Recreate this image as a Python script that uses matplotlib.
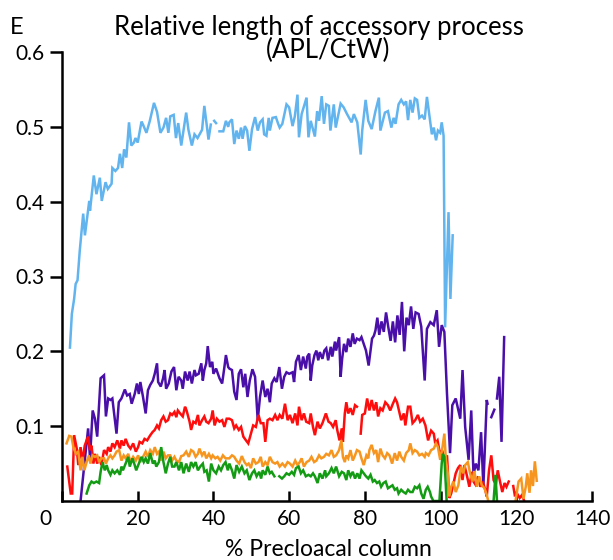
import numpy as np
import matplotlib
matplotlib.use("Agg")
import matplotlib.pyplot as plt
from matplotlib.transforms import ScaledTranslation

plt.rcParams['font.family'] = ['Lato', 'DejaVu Sans']

nan = np.nan

# values (x = % precloacal column, y = APL/CtW)
blue_x = [2.1, 2.6, 3.2, 3.6, 4.1, 4.7, 5.6, 6.05, 7.2, 7.4, 8.4, 9.1, 10.0, 10.5, 11.5, 12.1, 13.1, 13.3,
          14.1, 14.8, 15.3, 15.9, 16.4, 17.0, 17.7, 18.3, 19.0, 19.4, 20.0, 21.0, 21.4, 22.3, 23.2, 24.3,
          25.1, 26.0, 26.8, 27.5, 28.1, 28.6, 29.5, 30.1, 30.7, 31.5, 32.8, 33.4, 34.3, 35.0, 35.8, 37.0,
          37.6, 38.7, 39.3, 39.8, 40.2, 40.7, 41.0, 41.6, 42.6, 43.3, 43.9,
          44.2, 44.9, 45.5, 46.1, 46.7, 47.3, 47.7, 48.3, 48.9, 49.5, 50.2, 51.0, 51.7, 52.3, 53.0, 53.4,
          54.0, 54.6, 54.9, 55.6, 56.5, 57.1, 57.5, 58.2, 59.3, 60.0, 60.9, 61.5, 62.2, 62.6, 63.3, 64.6,
          65.1, 65.7, 66.8, 67.4, 67.9, 68.6, 69.2, 69.8, 70.5, 70.9, 71.8, 72.3, 73.6, 74.4, 75.3, 76.5,
          77.1, 78.0, 78.9, 79.3, 80.2, 80.9, 81.8, 82.8, 83.7, 84.1, 85.3, 86.1, 87.0, 87.6, 88.1,
          88.9, 89.6, 90.3, 90.9, 91.4, 92.0, 92.6, 93.2, 93.8, 94.4, 95.1, 95.8, 96.4, 97.0, 97.7, 98.2,
          98.8, 99.3, 99.9, 100.3, 100.8, 101.2, 102.1, 102.6, 103.2]
blue_y = [0.205, 0.25, 0.27, 0.29, 0.295, 0.335, 0.384, 0.355, 0.401, 0.388, 0.435, 0.41, 0.432, 0.401,
          0.426, 0.417, 0.424, 0.445, 0.441, 0.445, 0.464, 0.445, 0.47, 0.459, 0.506, 0.475, 0.479, 0.485,
          0.479, 0.507, 0.503, 0.492, 0.508, 0.532, 0.52, 0.492, 0.499, 0.512, 0.492, 0.514, 0.516, 0.485,
          0.505, 0.475, 0.519, 0.496, 0.475, 0.49, 0.485, 0.496, 0.528, 0.483, 0.503, nan, 0.508, 0.505,
          nan, 0.494, 0.494, 0.508, 0.5,
          0.506, 0.51, 0.477, 0.495, 0.484, 0.499, 0.484, 0.501, 0.495, 0.468, 0.497, 0.513, 0.495, 0.506,
          0.51, 0.49, 0.488, 0.512, 0.495, 0.512, 0.513, 0.504, 0.499, 0.504, 0.53, 0.526, 0.501, 0.514,
          0.543, 0.486, 0.517, 0.539, 0.486, 0.508, 0.487, 0.521, 0.508, 0.541, 0.504, 0.53, 0.528, 0.495,
          0.53, 0.499, 0.531, 0.526, 0.517, 0.506, 0.517, 0.506, 0.463, 0.495, 0.536, 0.508, 0.497, 0.521,
          0.539, 0.495, 0.519, 0.521, 0.499, 0.512, 0.504,
          0.53, 0.536, 0.53, 0.534, 0.509, 0.536, 0.519, 0.538, 0.536, 0.512, 0.515, 0.51, 0.54, 0.517,
          0.49, 0.499, 0.482, 0.495, 0.492, 0.506, 0.488, 0.232, 0.386, 0.27, 0.355]

purple_x = [4.9, 6.9, 7.4, 8.1, 8.7, 9.3, 10.2, 11.1, 11.6, 12.2, 12.8, 13.3, 14.4, 15.0, 15.7, 16.6, 17.2,
            17.9, 18.4, 19.2, 19.8, 20.3, 20.7, 21.4, 22.1, 22.7, 23.3, 24.0, 24.5, 25.1, 25.4, 26.1, 26.7,
            27.1, 27.5, 28.2, 28.9, 29.6, 30.2, 30.8, 31.5, 31.9, 32.5, 33.2, 33.7, 34.3, 35.0, 35.4, 36.1,
            36.8, 37.2, 37.6, 38.1, 38.5, 39.1, 39.7, 40.0, 40.7, 41.6, 42.3, 42.9, 43.3, 43.9,
            44.2, 44.9, 45.5, 46.1, 46.7, 47.3, 47.9, 48.4, 49.0, 49.6, 50.3, 51.0, 51.7, 52.3, 53.0, 53.7,
            54.3, 54.9, 55.4, 56.1, 56.7, 57.4, 58.1, 58.7, 59.3, 60.0, 60.9, 61.3, 61.8, 62.5, 63.1, 63.7,
            64.4, 64.8, 65.3, 65.7, 66.1, 66.7, 67.2, 67.7, 68.1, 68.8, 69.3, 69.8, 70.3, 71.0, 71.4, 72.1,
            72.4, 73.2, 73.6, 74.0, 74.5, 75.1, 75.6, 76.2, 76.8, 77.3, 77.9, 78.6, 79.1, 79.7, 80.3, 81.0,
            81.5, 81.9, 82.4, 82.8, 83.3, 83.8, 84.4, 85.0, 85.6, 86.2, 86.8, 87.4, 88.0, 88.6, 89.2, 89.8,
            90.4, 91.0, 91.6, 92.2, 92.8, 93.4, 94.2, 94.9, 95.8, 96.4, 97.3, 98.2, 99.0, 99.6, 100.3,
            101.0, 101.7, 102.5, 103.1, 104.0, 105.2, 105.8, 106.5, 107.4, 108.1, 108.7, 109.3, 110.0,
            110.7, 111.3, 112.2, 112.4, 112.9, 113.4, 114.2, 114.5, 114.9, 115.5, 116.1, 116.8]
purple_y = [0.0, 0.097, 0.057, 0.121, 0.11, 0.086, 0.164, 0.168, 0.113, 0.137, 0.135, 0.137, 0.09, 0.132,
            0.137, 0.149, 0.141, 0.143, 0.13, 0.143, 0.157, 0.143, 0.159, 0.139, 0.117, 0.148, 0.155, 0.161,
            0.17, 0.184, 0.159, 0.153, 0.164, 0.175, 0.15, 0.157, 0.173, 0.179, 0.148, 0.166, 0.161, 0.15,
            0.173, 0.161, 0.173, 0.157, 0.175, 0.168, 0.17, 0.184, 0.161, 0.175, 0.184, 0.207, 0.179, 0.186,
            0.17, 0.177, 0.164, 0.157, 0.179, 0.195, 0.179,
            0.177, 0.175, 0.146, 0.135, 0.17, 0.176, 0.152, 0.17, 0.139, 0.161, 0.176, 0.166, 0.108, 0.139,
            0.161, 0.139, 0.15, 0.132, 0.157, 0.164, 0.159, 0.179, 0.15, 0.166, 0.172, 0.17, 0.172, 0.159,
            0.186, 0.195, 0.175, 0.193, 0.177, 0.193, 0.197, 0.161, 0.181, 0.195, 0.201, 0.188, 0.199, 0.19,
            0.201, 0.204, 0.188, 0.206, 0.193, 0.213, 0.201, 0.219, 0.166, 0.19, 0.21, 0.199, 0.217, 0.206,
            0.224, 0.21, 0.217, 0.215, 0.219, 0.21, 0.201, 0.181, 0.201, 0.217, 0.221, 0.228, 0.245, 0.222,
            0.24, 0.226, 0.252, 0.232, 0.214, 0.24, 0.212, 0.248, 0.222, 0.266, 0.2, 0.245, 0.235, 0.26,
            0.23, 0.252, 0.25, 0.233, 0.161, 0.23, 0.239, 0.235, 0.255, 0.206, 0.235, 0.226, 0.143, 0.064,
            0.128, 0.137, 0.11, 0.175, 0.099, 0.055, 0.121, 0.035, 0.05, 0.041, 0.092, 0.019, 0.135, 0.13,
            nan, 0.112, 0.122, nan, 0.137, 0.166, 0.079, 0.219]

red_x = [1.4, 2.3, 2.7, 3.2, 3.9, 4.3, 4.9, 5.4, 6.0, 6.5, 6.9, 7.4, 7.8, 8.3, 8.7, 9.3, 9.8, 10.4, 11.1,
         11.8, 12.2, 12.8, 13.3, 13.9, 14.6, 15.3, 15.7, 16.3, 16.8, 17.5, 18.1, 18.8, 19.5, 20.1, 20.5,
         21.2, 21.8, 22.5, 23.2, 23.9, 24.5, 25.1, 25.6, 26.2, 26.8, 27.4, 28.0, 28.6, 29.1, 29.7, 30.2,
         30.6, 31.2, 31.9, 32.5, 32.9, 33.7, 34.1, 34.7, 35.3, 35.9, 36.3, 37.0, 37.6, 38.1, 38.7, 39.4,
         39.8, 40.3, 40.9, 41.6, 42.3, 42.9, 43.5,
         44.2, 44.9, 45.5, 46.0, 46.7, 47.3, 47.9, 48.6, 49.2, 49.9, 50.5, 51.2, 51.9, 52.5, 53.2, 53.7,
         54.3, 54.9, 55.6, 56.3, 56.9, 57.5, 58.2, 58.9, 59.6, 60.2, 60.9, 61.6, 62.2, 62.6, 63.3, 63.9,
         64.5, 65.3, 65.7, 66.3, 66.8, 67.5, 68.1, 68.8, 69.7, 70.4, 71.0, 71.6, 72.3, 72.7, 73.3, 73.9,
         74.2, 74.7, 75.1, 75.6, 76.2, 76.8, 77.4, 77.9, 78.4, 78.9, 79.3, 80.0, 80.6, 81.2, 81.8, 82.4,
         83.0, 83.5, 84.1, 84.7, 85.4, 86.1, 86.7, 87.4, 88.0, 88.5, 89.1, 89.6, 90.3, 90.7, 91.4, 92.0,
         92.6, 93.3, 94.0, 94.6, 95.3, 96.0, 96.7, 97.5, 98.2, 98.6, 99.2, 99.9, 100.4, 101.0, 101.7,
         102.3, 102.8, 103.4, 104.0, 104.6, 105.2, 105.8, 106.3, 107.0, 107.6, 108.3, 108.7, 109.2,
         109.9, 110.5, 111.1, 111.8, 112.2, 112.8, 113.4, 114.0, 114.6, 115.1, 115.7, 116.3, 116.9,
         117.4, 118.0, 118.5, 119.2, 119.6, 120.2, 120.9, 121.5, 122.1]
red_y = [0.046, 0.01, 0.01, 0.088, 0.07, 0.048, 0.072, 0.052, 0.074, 0.081, 0.086, 0.068, 0.074, 0.05,
         0.063, 0.05, 0.059, 0.048, 0.068, 0.063, 0.072, 0.066, 0.077, 0.072, 0.081, 0.07, 0.081, 0.074,
         0.083, 0.074, 0.07, 0.077, 0.066, 0.072, 0.079, 0.077, 0.083, 0.081, 0.087, 0.092, 0.095, 0.101,
         0.097, 0.108, 0.113, 0.106, 0.108, 0.117, 0.115, 0.119, 0.112, 0.121, 0.117, 0.113, 0.126, 0.121,
         0.106, 0.095, 0.106, 0.104, 0.115, 0.101, 0.108, 0.113, 0.106, 0.104, 0.11, 0.121, 0.101, 0.11,
         0.106, 0.108, 0.099, 0.11,
         0.11, 0.108, 0.097, 0.101, 0.095, 0.099, 0.086, 0.081, 0.077, 0.09, 0.101, 0.099, 0.115, 0.104,
         0.104, 0.079, 0.108, 0.11, 0.108, 0.115, 0.108, 0.115, 0.11, 0.13, 0.108, 0.115, 0.104, 0.117,
         0.101, 0.126, 0.108, 0.117, 0.106, 0.104, 0.117, 0.099, 0.088, 0.106, 0.097, 0.104, 0.117, 0.106,
         0.104, 0.099, 0.108, 0.095, 0.081, 0.097, 0.079, 0.117, 0.132, 0.117, 0.124, 0.115, 0.128, 0.126,
         nan, 0.09, 0.115, 0.117, 0.137, 0.121, 0.135, 0.121, 0.132, 0.113, 0.124, 0.121, 0.132, 0.128,
         0.121, 0.13, 0.137, 0.132, 0.119, 0.108, 0.117, 0.101, 0.126, 0.126, 0.104, 0.108, 0.115, 0.106,
         0.11, 0.101, 0.081, 0.094, 0.09, 0.077, 0.081, 0.061, 0.068, 0.055, 0.061, 0.004, 0.01, 0.023,
         0.037, 0.044, 0.048, 0.028, 0.048, 0.033, 0.019, 0.039, 0.026, 0.022, 0.033, 0.019, 0.026, 0.015,
         0.006, 0.041, 0.061, 0.028, 0.022, 0.041, 0.026, 0.012, 0.024, 0.019, 0.026, nan, 0.02, 0.008,
         0.01, 0.004, 0.008, 0.0]

orange_x = [1.2, 1.9, 2.5, 3.0, 3.7, 4.3, 4.9, 5.4, 5.9, 6.5, 7.1, 7.5, 8.1, 8.7, 9.3, 9.8, 10.4, 11.1,
            11.6, 12.2, 12.8, 13.3, 13.9, 14.4, 15.1, 15.7, 16.3, 16.8, 17.5, 18.1, 18.8, 19.5, 20.1, 20.7,
            21.4, 22.1, 22.7, 23.3, 24.0, 24.5, 25.1, 25.6, 26.2, 26.8, 27.4, 28.0, 28.6, 29.1, 29.7, 30.2,
            30.9, 31.5, 32.1, 32.8, 33.5, 34.1, 34.7, 35.3, 35.9, 36.3, 37.0, 37.6, 38.1, 38.8, 39.4, 39.8,
            40.5, 41.1, 41.8, 42.5, 43.2,
            44.2, 44.9, 45.5, 46.1, 46.8, 47.5, 48.2, 48.8, 49.3, 49.9, 50.5, 51.2, 51.9, 52.5, 53.0, 53.7,
            54.3, 54.9, 55.6, 56.3, 56.9, 57.5, 58.2, 58.9, 59.6, 60.2, 60.9, 61.6, 62.2, 62.8, 63.3, 63.9,
            64.6, 65.3, 65.9, 66.6, 67.2, 67.9, 68.5, 69.2, 69.8, 70.5, 71.2, 71.8, 72.4, 73.2, 73.8, 74.2,
            74.7, 75.1, 75.6, 76.2, 76.8, 77.4, 77.9, 78.6, 79.1, 79.7, 80.4, 80.9, 81.2, 81.8, 82.4, 83.0,
            83.5, 84.1, 84.7, 85.3, 85.9, 86.5, 87.2, 87.9, 88.5, 89.1, 89.6, 90.3, 90.9, 91.6, 92.0, 92.6,
            93.2, 93.8, 94.4, 95.1, 95.8, 96.1, 96.8, 97.5, 98.2, 98.8, 99.3, 99.9, 100.5, 101.0, 101.4,
            101.9, 102.3, 102.8, 103.4, 104.0, 104.7, 105.4, 106.0, 106.5, 107.2, 107.8, 108.4, 108.9,
            109.6, 110.2, 110.9, 111.6, 112.2, 112.6, 116.0,
            119.8, 120.6, 121.3, 121.9, 122.5, 122.9, 123.5, 123.9, 124.4, 124.9, 125.4]
orange_y = [0.077, 0.087, 0.086, 0.072, 0.063, 0.066, 0.041, 0.059, 0.041, 0.052, 0.061, 0.05, 0.061, 0.059,
            0.061, 0.052, 0.057, 0.057, 0.05, 0.057, 0.061, 0.057, 0.061, 0.066, 0.068, 0.054, 0.061, 0.057,
            0.063, 0.052, 0.059, 0.054, 0.061, 0.052, 0.059, 0.066, 0.059, 0.068, 0.063, 0.072, 0.063, 0.066,
            0.054, 0.066, 0.057, 0.061, 0.061, 0.054, 0.059, 0.054, 0.052, 0.06, 0.061, 0.066, 0.059, 0.068,
            0.066, 0.059, 0.063, 0.07, 0.061, 0.066, 0.057, 0.063, 0.057, 0.061, 0.057, 0.059, 0.054, 0.061,
            0.057,
            0.057, 0.061, 0.059, 0.054, 0.05, 0.06, 0.052, 0.048, 0.05, 0.044, 0.057, 0.05, 0.052, 0.059,
            0.046, 0.052, 0.048, 0.059, 0.052, 0.05, 0.052, 0.046, 0.05, 0.046, 0.052, 0.05, 0.046, 0.054,
            0.048, 0.052, 0.057, 0.046, 0.052, 0.054, 0.059, 0.052, 0.054, 0.061, 0.057, 0.059, 0.063, 0.061,
            0.068, 0.059, 0.061, 0.068, 0.081, 0.059, 0.052, 0.061, 0.057, 0.068, 0.054, 0.061, 0.068, 0.066,
            0.057, 0.048, 0.061, 0.057, 0.068, 0.075, 0.064, 0.068, 0.052, 0.07, 0.061, 0.057, 0.064, 0.061,
            0.05, 0.064, 0.054, 0.066, 0.059, 0.054, 0.064, 0.068, 0.077, 0.064, 0.068, 0.066, 0.061, 0.063,
            0.059, 0.064, 0.061, 0.068, 0.07, 0.077, 0.072, 0.055, 0.072, 0.09, 0.055, 0.037, 0.006, 0.019,
            0.026, 0.012, 0.021, 0.046, 0.037, 0.048, 0.052, 0.037, 0.026, 0.04, 0.019, 0.033, 0.021, 0.017,
            0.008, 0.0, nan,
            0.0, 0.026, 0.03, 0.003, 0.019, 0.037, 0.011, 0.041, 0.02, 0.053, 0.027]

green_x = [6.5, 7.2, 7.8, 8.4, 9.1, 9.8, 10.2, 10.7, 11.3, 11.8, 12.2, 12.8, 13.3, 13.9, 14.6, 15.3, 15.7,
           16.1, 16.8, 17.5, 17.9, 18.6, 19.2, 19.6, 20.3, 21.0, 21.6, 22.1, 22.7, 23.3, 24.0, 24.5, 24.9,
           25.6, 26.2, 26.8, 27.4, 28.0, 28.6, 29.1, 29.7, 30.2, 30.9, 31.5, 32.1, 32.8, 33.5, 34.1, 34.7,
           35.3, 35.9, 36.5, 37.2, 37.6, 38.2, 38.8, 39.4, 40.0, 40.7, 41.4, 42.0, 42.6, 43.2, 43.8,
           44.2, 44.9, 45.5, 46.1, 46.8, 47.5, 48.2, 48.8, 49.5, 50.2, 50.8, 51.4, 52.1, 52.6, 53.0, 53.7,
           54.3, 54.9, 55.4, 56.1, 56.6, 57.4, 58.1, 58.7, 59.3, 60.0, 60.7, 61.3, 61.8, 62.5, 63.1, 63.7,
           64.4, 65.1, 65.7, 66.3, 66.8, 67.5, 68.1, 68.8, 69.5, 69.8, 70.5, 71.2, 71.8, 72.4, 73.2, 73.9,
           74.5, 75.1, 75.6, 76.2, 76.8, 77.4, 78.0, 78.6, 79.1, 79.7, 80.3, 80.9, 81.5, 82.1, 82.6, 83.2,
           83.8, 84.3, 84.9, 85.5, 86.1, 86.7, 87.3, 87.9, 88.5, 88.9, 89.6, 90.2, 90.8, 91.4, 92.0, 92.6,
           93.2, 93.8, 94.4, 94.9, 95.5, 96.1, 96.6, 97.2, 97.5, 98.1, 99.7, 100.3, 100.6, 101.0, 101.6,
           108.0, 114.0, 114.5, 114.9]
green_y = [0.01, 0.021, 0.026, 0.024, 0.026, 0.024, 0.039, 0.052, 0.041, 0.048, 0.041, 0.035, 0.041, 0.037,
           0.041, 0.035, 0.046, 0.041, 0.05, 0.059, 0.046, 0.057, 0.048, 0.041, 0.05, 0.059, 0.052, 0.057,
           0.05, 0.064, 0.05, 0.054, 0.046, 0.052, 0.072, 0.052, 0.037, 0.05, 0.059, 0.046, 0.046, 0.052,
           0.041, 0.052, 0.037, 0.05, 0.039, 0.052, 0.046, 0.052, 0.041, 0.046, 0.05, 0.039, 0.041, 0.026,
           0.05, 0.041, 0.037, 0.046, 0.041, 0.048, 0.052, 0.041,
           0.05, 0.041, 0.03, 0.048, 0.039, 0.046, 0.037, 0.041, 0.028, 0.037, 0.041, 0.033, 0.039, 0.03,
           0.041, 0.035, 0.046, 0.037, 0.039, 0.033, nan, 0.033, 0.03, 0.033, 0.037, 0.035, 0.039, 0.035,
           0.044, 0.046, 0.037, 0.041, 0.033, 0.035, 0.033, 0.037, 0.033, 0.024, 0.037, 0.03, 0.041, 0.033,
           0.037, 0.044, 0.037, 0.046, 0.033, 0.039, 0.037, 0.028, 0.041, 0.033, 0.039, 0.03, 0.037, 0.03,
           0.041, 0.037, 0.033, 0.03, 0.035, 0.026, 0.028, 0.024, 0.026, 0.019, 0.024, 0.026, 0.017, 0.019,
           0.021, 0.015, 0.017, 0.01, 0.015, 0.012, 0.01, 0.015, 0.012, 0.012, 0.019, 0.017, 0.021, 0.01,
           0.003, 0.015, 0.019, 0.012, 0.006, 0.0, 0.0, 0.05, 0.063, 0.059, 0.0,
           nan, 0.0, 0.035, 0.0]

series = [
    (blue_x, blue_y, '#62b4ee'),
    (purple_x, purple_y, '#4a0fa8'),
    (red_x, red_y, '#ff0d0d'),
    (orange_x, orange_y, '#f7961f'),
    (green_x, green_y, '#149b14'),
]

fig = plt.figure(figsize=(6.13, 5.6), dpi=100)
ax = fig.add_axes([62 / 613, 1 - 501 / 560, 530 / 613, 449 / 560])

for xs, ys, c in series:
    ax.plot(xs, ys, color=c, lw=1.8, solid_joinstyle='miter')

ax.set_xlim(0, 140)
ax.set_ylim(0, 0.6)
ax.spines['top'].set_visible(False)
ax.spines['right'].set_visible(False)
for s in ('left', 'bottom'):
    ax.spines[s].set_linewidth(1.8)

ax.set_xticks(range(0, 141, 20))
ax.set_yticks([0.1, 0.2, 0.3, 0.4, 0.5, 0.6])
ax.set_yticklabels(['0.1', '0.2', '0.3', '0.4', '0.5', '0.6'])
ax.tick_params(axis='x', direction='in', length=7.5, width=1.8, labelsize=15, pad=6)
ax.tick_params(axis='y', direction='out', length=8.5, width=1.8, labelsize=15, pad=4)

# the "0" label sits left of the axis corner in the reference
lbl0 = ax.get_xticklabels()[0]
lbl0.set_transform(lbl0.get_transform() + ScaledTranslation(-17 / 100, 0, fig.dpi_scale_trans))

fig.text(328 / 613, 1 - 556 / 560, '% Precloacal column', ha='center', va='baseline', fontsize=16.5)
fig.text(319 / 613, 1 - 35 / 560, 'Relative length of accessory process', ha='center', va='baseline',
         fontsize=18.5)
fig.text(328 / 613, 1 - 58 / 560, '(APL/CtW)', ha='center', va='baseline', fontsize=18.5)
fig.text(10 / 613, 1 - 34 / 560, 'E', ha='left', va='baseline', fontsize=17)

fig.savefig('out.png', dpi=100)
